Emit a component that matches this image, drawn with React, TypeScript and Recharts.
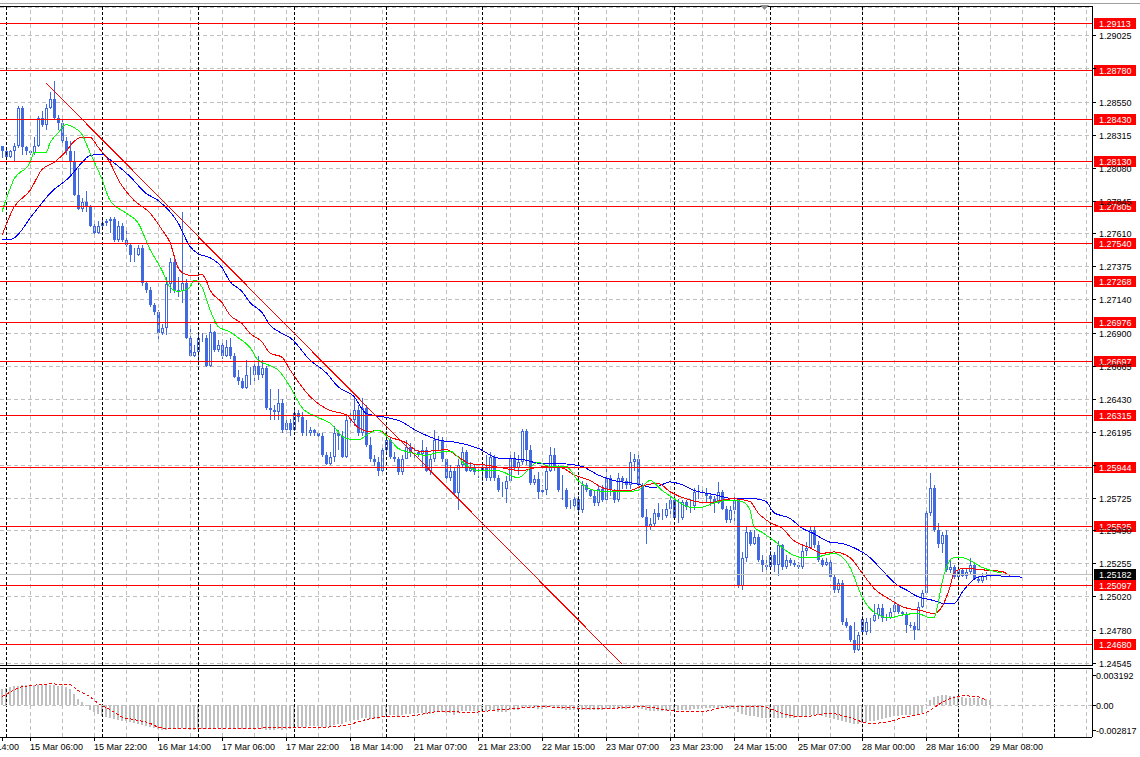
import React from 'react';
import { ComposedChart, Bar, Line, XAxis, YAxis, CartesianGrid, ReferenceLine } from 'recharts';

const FONT = "'Liberation Sans', Arial, sans-serif";
const CANDLE = '#4169e1';
const LEVEL = '#ff0000';
const GRID = '#c0c0c0';

// GBPUSD H1, one slot per hourly bar, first bar 14 Mar 23:00
const close = [
  1.2820, 1.2816, 1.2820, 1.2824, 1.2851, 1.2823, 1.2820, 1.2819, 1.2824, 1.2844,
  1.2839, 1.2851, 1.2857, 1.2844, 1.2840, 1.2827, 1.2820, 1.2812, 1.2789, 1.2779,
  1.2784, 1.2780, 1.2767, 1.2762, 1.2767, 1.2769, 1.2770, 1.2772, 1.2757, 1.2767,
  1.2757, 1.2753, 1.2746, 1.2746, 1.2751, 1.2726, 1.2721, 1.2710, 1.2705, 1.2690,
  1.2694, 1.2725, 1.2741, 1.2721, 1.2720, 1.2726, 1.2687, 1.2674, 1.2677, 1.2687,
  1.2687, 1.2667, 1.2691, 1.2678, 1.2682, 1.2674, 1.2680, 1.2674, 1.2659, 1.2656,
  1.2651, 1.2660, 1.2660, 1.2667, 1.2660, 1.2665, 1.2637, 1.2635, 1.2634, 1.2640,
  1.2621, 1.2626, 1.2621, 1.2633, 1.2630, 1.2619, 1.2619, 1.2621, 1.2619, 1.2617,
  1.2603, 1.2597, 1.2602, 1.2619, 1.2617, 1.2602, 1.2628, 1.2628, 1.2635, 1.2619,
  1.2637, 1.2610, 1.2600, 1.2598, 1.2592, 1.2607, 1.2614, 1.2602, 1.2600, 1.2591,
  1.2600, 1.2609, 1.2605, 1.2605, 1.2604, 1.2607, 1.2592, 1.2600, 1.2614, 1.2614,
  1.2600, 1.2587, 1.2592, 1.2576, 1.2596, 1.2605, 1.2592, 1.2594, 1.2591, 1.2592,
  1.2594, 1.2587, 1.2602, 1.2587, 1.2578, 1.2579, 1.2585, 1.2601, 1.2594, 1.2598,
  1.2620, 1.2607, 1.2583, 1.2586, 1.2577, 1.2578, 1.2592, 1.2603, 1.2594, 1.2578,
  1.2578, 1.2566, 1.2567, 1.2572, 1.2564, 1.2582, 1.2578, 1.2574, 1.2569, 1.2579,
  1.2571, 1.2587, 1.2578, 1.2571, 1.2587, 1.2585, 1.2582, 1.2598, 1.2600, 1.2582,
  1.2559, 1.2552, 1.2554, 1.2562, 1.2559, 1.2560, 1.2565, 1.2571, 1.2558, 1.2558,
  1.2570, 1.2566, 1.2567, 1.2577, 1.2577, 1.2576, 1.2574, 1.2572, 1.2569, 1.2577,
  1.2565, 1.2557, 1.2564, 1.2571, 1.2510, 1.2530, 1.2548, 1.2540, 1.2545, 1.2528,
  1.2525, 1.2523, 1.2532, 1.2525, 1.2539, 1.2523, 1.2528, 1.2526, 1.2525, 1.2523,
  1.2535, 1.2537, 1.2550, 1.2539, 1.2528, 1.2525, 1.2527, 1.2516, 1.2507, 1.2512,
  1.2484, 1.2481, 1.2471, 1.2464, 1.2475, 1.2477, 1.2484, 1.2485, 1.2489, 1.2494,
  1.2487, 1.2487, 1.2491, 1.2496, 1.2491, 1.2490, 1.2482, 1.2481, 1.2478, 1.2495,
  1.2505, 1.2562, 1.2580, 1.2550, 1.2540, 1.2546, 1.2521, 1.2523, 1.2516, 1.2521,
  1.2517, 1.2520, 1.2525, 1.2515, 1.2513, 1.2517, 1.2517, 1.25182,
];

const high = [
  1.2824, 1.2822, 1.2821, 1.2826, 1.2852, 1.2852, 1.2824, 1.2821, 1.2830, 1.2845,
  1.2849, 1.2854, 1.2862, 1.2870, 1.2846, 1.2842, 1.2830, 1.2827, 1.2820, 1.2808,
  1.2787, 1.2792, 1.2782, 1.2770, 1.2770, 1.2771, 1.2772, 1.2773, 1.2773, 1.2770,
  1.2769, 1.2764, 1.2754, 1.2751, 1.2753, 1.2753, 1.2727, 1.2723, 1.2712, 1.2707,
  1.2697, 1.2730, 1.2744, 1.2744, 1.2730, 1.2777, 1.2729, 1.2694, 1.2682, 1.2689,
  1.2690, 1.2689, 1.2697, 1.2692, 1.2685, 1.2685, 1.2685, 1.2687, 1.2676, 1.2664,
  1.2658, 1.2671, 1.2666, 1.2670, 1.2674, 1.2671, 1.2667, 1.2650, 1.2639, 1.2650,
  1.2643, 1.2629, 1.2629, 1.2635, 1.2635, 1.2634, 1.2628, 1.2623, 1.2622, 1.2621,
  1.2619, 1.2605, 1.2605, 1.2624, 1.2621, 1.2620, 1.2632, 1.2635, 1.2644, 1.2639,
  1.2644, 1.2639, 1.2616, 1.2603, 1.2602, 1.2610, 1.2620, 1.2615, 1.2605, 1.2602,
  1.2603, 1.2614, 1.2612, 1.2608, 1.2607, 1.2614, 1.2609, 1.2603, 1.2621, 1.2617,
  1.2616, 1.2601, 1.2596, 1.2594, 1.2600, 1.2609, 1.2607, 1.2598, 1.2597, 1.2596,
  1.2598, 1.2603, 1.2605, 1.2603, 1.2589, 1.2584, 1.2588, 1.2605, 1.2605, 1.2603,
  1.2622, 1.2622, 1.2610, 1.2589, 1.2591, 1.2582, 1.2596, 1.2609, 1.2608, 1.2596,
  1.2589, 1.2580, 1.2571, 1.2574, 1.2574, 1.2585, 1.2583, 1.2579, 1.2578, 1.2582,
  1.2582, 1.2594, 1.2589, 1.2579, 1.2590, 1.2588, 1.2587, 1.2605, 1.2604, 1.2603,
  1.2583, 1.2565, 1.2558, 1.2565, 1.2569, 1.2565, 1.2569, 1.2574, 1.2576, 1.2572,
  1.2571, 1.2571, 1.2572, 1.2580, 1.2582, 1.2581, 1.2580, 1.2576, 1.2574, 1.2584,
  1.2578, 1.2567, 1.2567, 1.2574, 1.2572, 1.2534, 1.2552, 1.2550, 1.2550, 1.2547,
  1.2532, 1.2528, 1.2535, 1.2534, 1.2542, 1.2540, 1.2532, 1.2530, 1.2528, 1.2527,
  1.2539, 1.2541, 1.2552, 1.2552, 1.2542, 1.2530, 1.2530, 1.2530, 1.2518, 1.2515,
  1.2514, 1.2487, 1.2482, 1.2484, 1.2477, 1.2489, 1.2487, 1.2487, 1.2497, 1.2497,
  1.2497, 1.2490, 1.2494, 1.2502, 1.2497, 1.2492, 1.2491, 1.2484, 1.2484, 1.2498,
  1.2507, 1.2564, 1.2590, 1.2582, 1.2555, 1.2548, 1.2550, 1.2528, 1.2525, 1.2524,
  1.2522, 1.2522, 1.2530, 1.2527, 1.2517, 1.2519, 1.2520, 1.2521,
];

const low = [
  1.2815, 1.2814, 1.2815, 1.2812, 1.2822, 1.2817, 1.2817, 1.2817, 1.2817, 1.2823,
  1.2837, 1.2835, 1.2850, 1.2842, 1.2835, 1.2823, 1.2817, 1.2803, 1.2788, 1.2778,
  1.2777, 1.2777, 1.2766, 1.2760, 1.2761, 1.2766, 1.2767, 1.2762, 1.2755, 1.2755,
  1.2755, 1.2752, 1.2741, 1.2741, 1.2745, 1.2724, 1.2719, 1.2709, 1.2703, 1.2685,
  1.2689, 1.2689, 1.2719, 1.2719, 1.2716, 1.2712, 1.2686, 1.2673, 1.2673, 1.2670,
  1.2684, 1.2666, 1.2666, 1.2677, 1.2677, 1.2672, 1.2673, 1.2672, 1.2658, 1.2653,
  1.2650, 1.2650, 1.2653, 1.2655, 1.2657, 1.2658, 1.2635, 1.2628, 1.2628, 1.2628,
  1.2619, 1.2619, 1.2617, 1.2620, 1.2627, 1.2617, 1.2617, 1.2617, 1.2617, 1.2616,
  1.2602, 1.2596, 1.2596, 1.2598, 1.2607, 1.2601, 1.2601, 1.2624, 1.2624, 1.2617,
  1.2617, 1.2609, 1.2598, 1.2595, 1.2588, 1.2591, 1.2603, 1.2600, 1.2598, 1.2589,
  1.2589, 1.2600, 1.2602, 1.2600, 1.2602, 1.2594, 1.2591, 1.2589, 1.2598, 1.2607,
  1.2598, 1.2585, 1.2585, 1.2574, 1.2564, 1.2594, 1.2591, 1.2591, 1.2589, 1.2587,
  1.2585, 1.2585, 1.2585, 1.2585, 1.2577, 1.2573, 1.2569, 1.2584, 1.2592, 1.2589,
  1.2596, 1.2596, 1.2582, 1.2582, 1.2572, 1.2575, 1.2575, 1.2591, 1.2592, 1.2577,
  1.2571, 1.2565, 1.2565, 1.2565, 1.2562, 1.2562, 1.2577, 1.2573, 1.2567, 1.2567,
  1.2570, 1.2570, 1.2574, 1.2569, 1.2570, 1.2579, 1.2579, 1.2579, 1.2592, 1.2580,
  1.2558, 1.2540, 1.2550, 1.2552, 1.2557, 1.2557, 1.2558, 1.2558, 1.2557, 1.2555,
  1.2557, 1.2564, 1.2562, 1.2564, 1.2572, 1.2573, 1.2569, 1.2567, 1.2562, 1.2568,
  1.2564, 1.2555, 1.2555, 1.2555, 1.2508, 1.2507, 1.2527, 1.2538, 1.2539, 1.2527,
  1.2520, 1.2521, 1.2522, 1.2520, 1.2517, 1.2521, 1.2522, 1.2524, 1.2523, 1.2522,
  1.2522, 1.2531, 1.2536, 1.2537, 1.2527, 1.2523, 1.2524, 1.2515, 1.2505, 1.2505,
  1.2482, 1.2480, 1.2470, 1.2462, 1.2463, 1.2475, 1.2475, 1.2476, 1.2484, 1.2486,
  1.2484, 1.2485, 1.2486, 1.2490, 1.2490, 1.2488, 1.2476, 1.2480, 1.2471, 1.2478,
  1.2494, 1.2504, 1.2560, 1.2548, 1.2537, 1.2533, 1.2520, 1.2519, 1.2515, 1.2514,
  1.2516, 1.2515, 1.2518, 1.2514, 1.2512, 1.2512, 1.2514, 1.2515,
];

// bars open at the previous close, except the first one and after the weekend
const firstOpen = 1.2824;
const gapOpen: Record<number, number> = { 215: 1.2486 };

// alligator lines as [slot, price]
const jawPts = [
  [0, 1.2757], [2, 1.2757], [8, 1.2776], [12, 1.279], [17, 1.2802], [20, 1.2812], [22, 1.2817],
  [25, 1.2818], [27, 1.2814], [32, 1.2802], [36, 1.279], [39, 1.2785], [44, 1.2769], [47, 1.2752],
  [49, 1.2747], [52, 1.2744], [55, 1.2737], [57, 1.2727], [60, 1.272], [62, 1.2712], [65, 1.2705],
  [67, 1.2696], [70, 1.269], [72, 1.2687], [77, 1.2671], [81, 1.2662], [84, 1.2652], [88, 1.2645],
  [91, 1.2633], [96, 1.263], [99, 1.2628], [104, 1.262], [109, 1.2614], [114, 1.2612], [119, 1.2608],
  [124, 1.2601], [130, 1.26], [135, 1.2597], [140, 1.2597], [145, 1.2595], [149, 1.2589],
  [153, 1.2585], [158, 1.2583], [163, 1.258], [167, 1.2584], [170, 1.2582], [173, 1.2578],
  [178, 1.2575], [183, 1.2572], [188, 1.2572], [191, 1.257], [193, 1.2562], [197, 1.2558],
  [200, 1.2551], [203, 1.2547], [207, 1.2541], [210, 1.254], [213, 1.2537], [217, 1.253],
  [220, 1.2521], [224, 1.251], [226, 1.2507], [229, 1.2502], [232, 1.25], [236, 1.2497],
  [238, 1.2497], [240, 1.2505], [242, 1.2512], [244, 1.2516], [247, 1.2517], [255, 1.2516],
];
const teethPts = [
  [0, 1.276], [3, 1.278], [7, 1.2792], [10, 1.2807], [13, 1.2812], [16, 1.282], [18, 1.2827],
  [20, 1.283], [22, 1.283], [24, 1.2823], [27, 1.2812], [29, 1.28], [33, 1.2785], [37, 1.2776],
  [40, 1.2764], [42, 1.2755], [44, 1.2737], [46, 1.2732], [48, 1.2731], [50, 1.2732], [51, 1.2728],
  [52, 1.2721], [55, 1.2712], [57, 1.2703], [60, 1.2697], [62, 1.269], [65, 1.2684], [67, 1.2676],
  [70, 1.2673], [72, 1.2664], [77, 1.2645], [82, 1.2635], [86, 1.2632], [89, 1.2623], [92, 1.262],
  [94, 1.2621], [97, 1.2616], [101, 1.2612], [104, 1.2606], [107, 1.2606], [111, 1.2607],
  [114, 1.2602], [117, 1.2597], [121, 1.2596], [125, 1.2594], [130, 1.2592], [133, 1.2594],
  [137, 1.2595], [140, 1.2594], [143, 1.2589], [147, 1.2585], [150, 1.258], [153, 1.2578],
  [157, 1.2578], [160, 1.2581], [164, 1.2583], [167, 1.2577], [172, 1.2571], [177, 1.2569],
  [180, 1.2571], [183, 1.2572], [187, 1.257], [189, 1.2562], [192, 1.2555], [195, 1.2551],
  [198, 1.2542], [202, 1.2537], [205, 1.2533], [208, 1.2534], [212, 1.253], [215, 1.2519],
  [218, 1.2508], [222, 1.25], [225, 1.2495], [230, 1.2492], [233, 1.249], [235, 1.2495],
  [237, 1.2509], [238, 1.2519], [240, 1.2522], [242, 1.2522], [246, 1.2521], [250, 1.252],
  [252, 1.2517],
];
const lipsPts = [
  [0, 1.2777], [3, 1.28], [7, 1.2812], [8, 1.2819], [11, 1.2819], [12, 1.2826], [14, 1.2833],
  [16, 1.2839], [18, 1.2837], [20, 1.2832], [22, 1.2819], [25, 1.28], [27, 1.2785], [31, 1.2776],
  [34, 1.2769], [37, 1.275], [40, 1.2735], [42, 1.2723], [44, 1.272], [47, 1.2723], [48, 1.2728],
  [50, 1.2723], [52, 1.2707], [54, 1.2695], [57, 1.2691], [59, 1.2687], [62, 1.268], [64, 1.2671],
  [67, 1.2667], [69, 1.2664], [72, 1.2652], [75, 1.2637], [79, 1.263], [82, 1.2626], [86, 1.2615],
  [89, 1.2614], [92, 1.2619], [94, 1.2621], [97, 1.2614], [99, 1.2608], [102, 1.2605],
  [106, 1.2603], [109, 1.2605], [112, 1.2606], [116, 1.2596], [119, 1.2592], [124, 1.2592],
  [129, 1.2587], [134, 1.2598], [137, 1.2595], [141, 1.2595], [144, 1.2585], [148, 1.2578],
  [152, 1.2577], [156, 1.2577], [159, 1.2578], [162, 1.2585], [165, 1.2578], [168, 1.2572],
  [172, 1.2566], [175, 1.2566], [178, 1.2569], [182, 1.2571], [185, 1.257], [187, 1.2564],
  [188, 1.2552], [190, 1.2548], [193, 1.2542], [197, 1.2533], [200, 1.253], [203, 1.253],
  [206, 1.2532], [208, 1.2533], [212, 1.2523], [215, 1.2502], [218, 1.2491], [222, 1.2487],
  [225, 1.2489], [229, 1.249], [232, 1.2487], [233, 1.2487], [234, 1.2497], [235, 1.2512],
  [237, 1.2528], [238, 1.253], [240, 1.253], [242, 1.2528], [245, 1.2523], [247, 1.2521],
  [250, 1.2519],
];

// MACD histogram per bar and its signal line
const macd = [
  0.0018, 0.0019, 0.002, 0.0021, 0.0021, 0.0022, 0.0022, 0.0022, 0.0022, 0.0022,
  0.0022, 0.0022, 0.0022, 0.0022, 0.0021, 0.0021, 0.002, 0.0017, 0.0012, 0.0007,
  0.0003, -0.0001, -0.0005, -0.0008, -0.001, -0.0012, -0.0013, -0.0014, -0.0015, -0.0016,
  -0.0017, -0.0018, -0.0019, -0.002, -0.0021, -0.0022, -0.0023, -0.0024, -0.0025, -0.0026,
  -0.0027, -0.0027, -0.0026, -0.0026, -0.0026, -0.0025, -0.0026, -0.0027, -0.0027, -0.0026,
  -0.0026, -0.0026, -0.0025, -0.0025, -0.0025, -0.0025, -0.0025, -0.0026, -0.0026, -0.0026,
  -0.0026, -0.0026, -0.0025, -0.0025, -0.0025, -0.0026, -0.0027, -0.0027, -0.0027, -0.0026,
  -0.0027, -0.0026, -0.0026, -0.0025, -0.0024, -0.0024, -0.0024, -0.0023, -0.0023, -0.0023,
  -0.0024, -0.0024, -0.0024, -0.0022, -0.0021, -0.0021, -0.0019, -0.0018, -0.0016, -0.0016,
  -0.0014, -0.0014, -0.0015, -0.0015, -0.0015, -0.0013, -0.0011, -0.0011, -0.0011, -0.0012,
  -0.0011, -0.001, -0.001, -0.0009, -0.0009, -0.0009, -0.001, -0.001, -0.0008, -0.0007,
  -0.0008, -0.0009, -0.0009, -0.0011, -0.0009, -0.0007, -0.0007, -0.0007, -0.0007, -0.0007,
  -0.0007, -0.0007, -0.0006, -0.0007, -0.0008, -0.0008, -0.0008, -0.0006, -0.0005, -0.0005,
  -0.0003, -0.0002, -0.0003, -0.0003, -0.0004, -0.0004, -0.0003, -0.0002, -0.0002, -0.0003,
  -0.0004, -0.0005, -0.0005, -0.0005, -0.0006, -0.0005, -0.0005, -0.0005, -0.0005, -0.0005,
  -0.0005, -0.0004, -0.0004, -0.0004, -0.0004, -0.0004, -0.0004, -0.0003, -0.0003, -0.0003,
  -0.0004, -0.0006, -0.0007, -0.0007, -0.0007, -0.0007, -0.0007, -0.0006, -0.0006, -0.0006,
  -0.0006, -0.0005, -0.0005, -0.0004, -0.0004, -0.0003, -0.0003, -0.0003, -0.0003, -0.0003,
  -0.0003, -0.0003, -0.0004, -0.0004, -0.0008, -0.001, -0.0011, -0.0012, -0.0012, -0.0013,
  -0.0014, -0.0014, -0.0014, -0.0014, -0.0014, -0.0014, -0.0014, -0.0014, -0.0014, -0.0013,
  -0.0013, -0.0012, -0.0011, -0.0011, -0.0011, -0.0012, -0.0013, -0.0014, -0.0015, -0.0016,
  -0.0018, -0.0019, -0.002, -0.0021, -0.0021, -0.002, -0.0019, -0.0018, -0.0017, -0.0016,
  -0.0015, -0.0014, -0.0013, -0.0012, -0.0012, -0.0011, -0.0011, -0.0011, -0.0011, -0.001,
  -0.0009, 0.0001, 0.0006, 0.0009, 0.001, 0.0011, 0.0011, 0.001, 0.001, 0.0009,
  0.0009, 0.0008, 0.0008, 0.0008, 0.0008, 0.0007, 0.0007, 0.0006,
];
const signalPts = [
  [0, 0.0009], [2, 0.0014], [5, 0.002], [7, 0.0021], [12, 0.0023], [17, 0.0022], [19, 0.0016],
  [22, 0.0009], [24, 0.0002], [27, -0.0005], [30, -0.0013], [33, -0.0016], [37, -0.002],
  [39, -0.0024], [42, -0.0026], [50, -0.0026], [60, -0.0026], [67, -0.0025], [75, -0.0025],
  [82, -0.0024], [87, -0.0021], [91, -0.0016], [95, -0.0013], [102, -0.0012], [110, -0.0007],
  [117, -0.0008], [125, -0.0005], [135, -0.0002], [142, -0.0003], [150, -0.0004], [160, -0.0002],
  [170, -0.0007], [175, -0.0007], [182, -0.0002], [190, -0.0002], [195, -0.0009], [200, -0.0013],
  [207, -0.0009], [212, -0.0014], [217, -0.002], [221, -0.0019], [225, -0.0014], [231, -0.0008],
  [236, 0.0005], [240, 0.001], [244, 0.0009], [246, 0.0005],
];

const levels = [
  1.29113, 1.2878, 1.2843, 1.2813, 1.27805, 1.2754, 1.27268,
  1.26976, 1.26697, 1.26315, 1.25944, 1.25525, 1.25097, 1.2468,
];
const lastPrice = 1.25182;
const priceTicks = [
  1.29025, 1.2879, 1.2855, 1.28315, 1.2808, 1.27845, 1.2761, 1.27375, 1.2714, 1.269,
  1.26665, 1.2643, 1.26195, 1.2596, 1.25725, 1.2549, 1.25255, 1.2502, 1.2478, 1.24545,
];
// grid levels whose labels sit fully under a level tag
const coveredTicks = [1.2879, 1.2596];
const macdTicks = [0.003192, 0, -0.002817];

const labelSlots = [-9, 7, 23, 39, 55, 71, 87, 103, 119, 135, 151, 167, 183, 199, 215, 231, 247];
const labelTexts = [
  '14 Mar 14:00', '15 Mar 06:00', '15 Mar 22:00', '16 Mar 14:00', '17 Mar 06:00', '17 Mar 22:00',
  '18 Mar 14:00', '21 Mar 07:00', '21 Mar 23:00', '22 Mar 15:00', '23 Mar 07:00', '23 Mar 23:00',
  '24 Mar 15:00', '25 Mar 07:00', '28 Mar 00:00', '28 Mar 16:00', '29 Mar 08:00',
];
const daySeparators = [1, 25, 49, 73, 96, 120, 144, 168, 192, 215, 239, 263];

const SLOTS = 273;
const BAR_PX = 4;
const gridSlots = Array.from({ length: 34 }, (_, k) => 7 + 8 * k);
const tickSlots = labelSlots.map((s) => Math.max(s, 0));

const toMap = (pts: number[][]) => new Map(pts.map(([i, v]) => [i, v]));
const jawMap = toMap(jawPts);
const teethMap = toMap(teethPts);
const lipsMap = toMap(lipsPts);
const signalMap = toMap(signalPts);

const rows = Array.from({ length: SLOTS }, (_, i) => {
  const has = i < close.length;
  return {
    i,
    range: has ? [low[i], high[i]] : null,
    open: has ? (gapOpen[i] ?? (i === 0 ? firstOpen : close[i - 1])) : null,
    close: has ? close[i] : null,
    high: has ? high[i] : null,
    low: has ? low[i] : null,
    macd: has ? macd[i] : null,
    jaw: jawMap.get(i) ?? null,
    teeth: teethMap.get(i) ?? null,
    lips: lipsMap.get(i) ?? null,
    signal: signalMap.get(i) ?? null,
  };
});

function Candle(props: any) {
  const { x, width, payload } = props;
  let { y, height } = props;
  if (!payload || payload.open == null || y == null) return <g />;
  if (height < 0) {
    y += height;
    height = -height;
  }
  const { open, close: c, high: h, low: l } = payload;
  const cx = Math.floor(x + width / 2) + 0.5;
  const span = h - l || 1e-9;
  const py = (v: number) => y + ((h - v) / span) * height;
  const top = Math.round(py(Math.max(open, c)));
  const bot = Math.round(py(Math.min(open, c)));
  const up = c >= open;
  return (
    <g>
      <line x1={cx} x2={cx} y1={y} y2={y + height} stroke={CANDLE} strokeWidth={1} />
      {up ? (
        <rect x={cx - 1} y={top + 0.5} width={2} height={Math.max(bot - top - 1, 0)} fill="#fff" stroke={CANDLE} strokeWidth={1} />
      ) : (
        <rect x={cx - 1.5} y={top} width={3} height={Math.max(bot - top, 1)} fill={CANDLE} />
      )}
    </g>
  );
}

// horizontal object lines snapped to one pixel row
const LevelLine = (p: any) => {
  const y = Math.floor(p.y1) + 0.5;
  return <line x1={p.x1} x2={p.x2} y1={y} y2={y} stroke={p.stroke} strokeWidth={1} />;
};

const PriceTick = (props: any) => {
  const v = Number(props.payload.value);
  if (coveredTicks.some((c) => Math.abs(c - v) < 1e-7)) return <g />;
  return (
    <text x={props.x} y={props.y + 3.5} fontSize={9} fontFamily={FONT} fill="#000">
      {v.toFixed(5)}
    </text>
  );
};

const MacdTick = (props: any) => {
  const v = Number(props.payload.value);
  return (
    <text x={props.x - 3} y={props.y + 3.5} fontSize={9} fontFamily={FONT} fill="#000">
      {v === 0 ? '0.00' : v.toFixed(6)}
    </text>
  );
};

const TimeTick = (props: any) => {
  const k = tickSlots.indexOf(props.payload.value);
  if (k < 0) return <g />;
  const shift = (labelSlots[k] - props.payload.value) * BAR_PX;
  return (
    <text x={props.x + shift} y={props.y + 9} fontSize={9} fontFamily={FONT} fill="#000">
      {labelTexts[k]}
    </text>
  );
};

const tag = (text: string, bg: string) => (p: any) => {
  const vb = p.viewBox || {};
  const x = Math.round(vb.x + vb.width + 2);
  const y = Math.floor(vb.y);
  return (
    <g>
      <rect x={x} y={y - 5} width={42} height={11} fill={bg} />
      <text x={x + 5} y={y + 4} fontSize={9} fontFamily={FONT} fill="#fff">
        {text}
      </text>
    </g>
  );
};

export default function App() {
  const crisp = { shapeRendering: 'crispEdges' as const };
  return (
    <div style={{ position: 'absolute', left: 0, top: 0, width: 1140, height: 757, background: '#fff', fontFamily: FONT }}>
      <div style={{ position: 'absolute', left: 0, top: 3, width: 1140, height: 1, background: '#a0a0a0' }} />
      <div style={{ position: 'absolute', left: 0, top: 6, width: 1093, height: 1, background: '#000' }} />
      <div style={{ position: 'absolute', left: 0, top: 0 }}>
        <ComposedChart width={1140} height={680} data={rows} margin={{ top: 7, right: 0, bottom: 15, left: 0 }} style={crisp}>
          <CartesianGrid vertical={false} stroke={GRID} strokeDasharray="4 3" />
          <XAxis dataKey="i" type="category" hide />
          <YAxis
            orientation="right"
            width={48}
            domain={[1.24533, 1.2923]}
            allowDataOverflow
            ticks={priceTicks}
            interval={0}
            tickSize={4}
            tickMargin={3}
            axisLine={{ stroke: '#000' }}
            tickLine={{ stroke: '#000' }}
            tick={PriceTick}
          />
          {gridSlots.map((s) => (
            <ReferenceLine key={'g' + s} x={s} stroke={GRID} strokeDasharray="4 3" />
          ))}
          {daySeparators.map((s) => (
            <ReferenceLine key={'d' + s} x={s} stroke="#000" strokeDasharray="3 2" />
          ))}
          <Bar dataKey="range" barSize={3} shape={Candle} isAnimationActive={false} />
          <Line dataKey="jaw" type="monotone" stroke="#0000ff" strokeWidth={1} dot={false} activeDot={false} connectNulls isAnimationActive={false} />
          <Line dataKey="teeth" type="monotone" stroke="#ff0000" strokeWidth={1} dot={false} activeDot={false} connectNulls isAnimationActive={false} />
          <Line dataKey="lips" type="monotone" stroke="#00ff00" strokeWidth={1} dot={false} activeDot={false} connectNulls isAnimationActive={false} />
          <ReferenceLine y={lastPrice} stroke={GRID} shape={LevelLine} label={tag(lastPrice.toFixed(5), '#000')} />
          {levels.map((lv) => (
            <ReferenceLine key={'l' + lv} y={lv} stroke={LEVEL} shape={LevelLine} label={tag(lv.toFixed(5), LEVEL)} />
          ))}
          <ReferenceLine segment={[{ x: 11, y: 1.28688 }, { x: 155, y: 1.2454 }]} stroke={LEVEL} strokeWidth={1} />
        </ComposedChart>
      </div>
      <div style={{ position: 'absolute', left: 0, top: 665, width: 1093, height: 1, background: '#000' }} />
      <div style={{ position: 'absolute', left: 0, top: 668, width: 1093, height: 1, background: '#000' }} />
      <div style={{ position: 'absolute', left: 0, top: 669 }}>
        <ComposedChart width={1140} height={88} data={rows} margin={{ top: 0, right: 0, bottom: 0, left: 0 }} style={crisp}>
          <XAxis
            dataKey="i"
            type="category"
            height={20}
            ticks={tickSlots}
            interval={0}
            tickSize={4}
            tickMargin={0}
            axisLine={{ stroke: '#000' }}
            tickLine={{ stroke: '#000' }}
            tick={TimeTick}
          />
          <YAxis
            orientation="right"
            width={48}
            domain={[-0.003496, 0.003933]}
            allowDataOverflow
            ticks={macdTicks}
            interval={0}
            tickSize={4}
            tickMargin={3}
            axisLine={{ stroke: '#000' }}
            tickLine={{ stroke: '#000' }}
            tick={MacdTick}
          />
          {gridSlots.map((s) => (
            <ReferenceLine key={'g' + s} x={s} stroke={GRID} strokeDasharray="4 3" />
          ))}
          {daySeparators.map((s) => (
            <ReferenceLine key={'d' + s} x={s} stroke="#000" strokeDasharray="3 2" />
          ))}
          <ReferenceLine y={0} stroke={GRID} strokeDasharray="4 3" />
          <Bar dataKey="macd" barSize={2} fill="#c0c0c0" isAnimationActive={false} />
          <Line dataKey="signal" type="monotone" stroke="#ff0000" strokeWidth={1} strokeDasharray="3 2" dot={false} activeDot={false} connectNulls isAnimationActive={false} />
        </ComposedChart>
      </div>
      <svg style={{ position: 'absolute', left: 760, top: 5 }} width={10} height={7}>
        <polygon points="0,0 9,0 4.5,5" fill="#909090" />
      </svg>
    </div>
  );
}
